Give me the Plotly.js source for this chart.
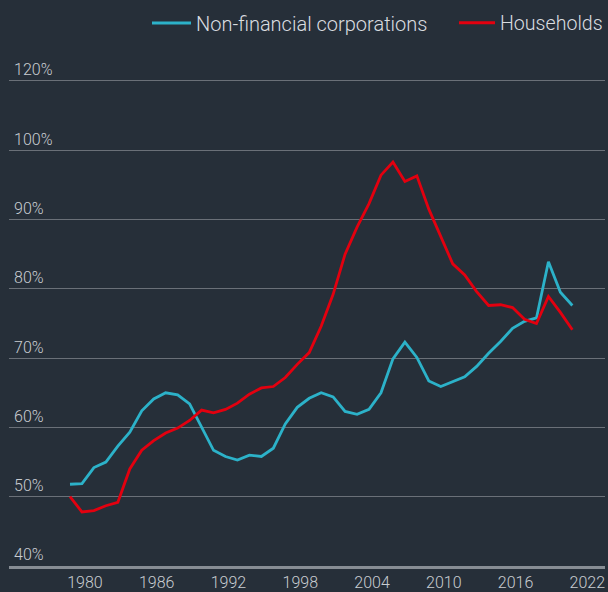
<!DOCTYPE html>
<html><head><meta charset="utf-8">
<script src="https://cdn.plot.ly/plotly-3.0.1.min.js"></script>
<style>html,body{margin:0;padding:0;background:#262f39;}#chart{width:608px;height:592px;}</style>
</head><body><div id="chart"></div>
<script>
const years = [1979,1980,1981,1982,1983,1984,1985,1986,1987,1988,1989,1990,1991,1992,1993,1994,1995,1996,1997,1998,1999,2000,2001,2002,2003,2004,2005,2006,2007,2008,2009,2010,2011,2012,2013,2014,2015,2016,2017,2018,2019,2020,2021];
const nonFinancial = [51.8,51.9,54.2,55.0,57.3,59.3,62.4,64.1,65.0,64.7,63.4,60.0,56.7,55.8,55.3,56.0,55.8,57.0,60.5,62.9,64.2,65.0,64.4,62.3,61.9,62.6,65.0,69.9,72.3,70.1,66.7,65.9,66.6,67.3,68.8,70.7,72.4,74.3,75.3,75.8,83.9,79.5,77.6];
const households = [50.0,47.8,48.0,48.7,49.2,54.0,56.7,58.1,59.2,59.9,61.0,62.5,62.1,62.6,63.5,64.8,65.7,65.9,67.2,69.1,70.8,74.6,79.2,85.0,88.9,92.3,96.4,98.3,95.5,96.3,91.5,87.5,83.6,82.0,79.6,77.6,77.7,77.3,75.6,75.0,78.9,76.6,74.1];
const seriesNames = ["Non-financial corporations","Households"];
const yTickVals = [40,50,60,70,80,90,100,110];
const yTickText = ["40%","50%","60%","70%","80%","90%","100%","120%"];
const xTickVals = [1980,1986,1992,1998,2004,2010,2016,2022];

const font = "Roboto, 'Open Sans', sans-serif";
const traces = [
  {x: years, y: nonFinancial, name: seriesNames[0], type: 'scatter', mode: 'lines', legend: 'legend',
   line: {color: '#2cb2c9', width: 2.8}},
  {x: years, y: households, name: seriesNames[1], type: 'scatter', mode: 'lines', legend: 'legend2',
   line: {color: '#e3000f', width: 2.8}}
];
const legendBase = {orientation: 'h', xref: 'container', xanchor: 'right', yref: 'container', y: 1 - 23/592, yanchor: 'middle',
  font: {family: font, size: 20, color: '#dadde0', weight: 300}, bgcolor: 'rgba(0,0,0,0)', itemwidth: 39};
const layout = {
  width: 608, height: 592,
  paper_bgcolor: '#262f39', plot_bgcolor: '#262f39',
  margin: {l: 9, r: 3, t: 74, b: 26, pad: 0},
  font: {family: font, color: '#d3d6da', size: 16, weight: 300},
  showlegend: true,
  legend: Object.assign({}, legendBase, {x: 433/608}),
  legend2: Object.assign({}, legendBase, {x: 1, itemwidth: 36, font: {family: font, size: 19.6, color: '#dadde0', weight: 300}}),
  xaxis: {range: [1973.9, 2023.73], tickvals: xTickVals, ticktext: xTickVals.map(String),
    showgrid: false, zeroline: false, showline: true, linecolor: '#878d94', linewidth: 3,
    ticks: '', ticklabelshift: 3, tickfont: {family: font, size: 16, color: '#c9cdd1', weight: 300}, fixedrange: true},
  yaxis: {range: [40, 111], tickvals: yTickVals, ticktext: yTickText,
    showgrid: true, gridcolor: '#6a7078', gridwidth: 1, zeroline: false, showline: false,
    ticks: '', ticklabelposition: 'inside top', ticklabeloverflow: 'allow', ticklabelstandoff: 2,
    tickfont: {family: font, size: 16, color: '#c9cdd1', weight: 300}, fixedrange: true}
};
Plotly.newPlot('chart', traces, layout, {displayModeBar: false, staticPlot: true});
</script></body></html>
